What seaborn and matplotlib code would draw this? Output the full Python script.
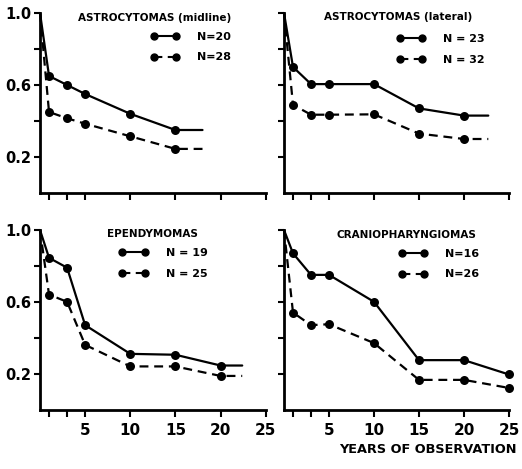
import numpy as np
import pandas as pd
import matplotlib
matplotlib.use("Agg")
import matplotlib.pyplot as plt
from matplotlib.lines import Line2D
import seaborn as sns

# ---- data ----
titles = ["ASTROCYTOMAS (midline)", "ASTROCYTOMAS (lateral)",
          "EPENDYMOMAS", "CRANIOPHARYNGIOMAS"]
n_labels = [("N=20", "N=28"), ("N = 23", "N = 32"),
            ("N = 19", "N = 25"), ("N=16", "N=26")]

years_mid = [0, 1, 3, 5, 10, 15, 18]
mid_solid = [1.0, 0.65, 0.60, 0.55, 0.44, 0.35, 0.35]
mid_dash = [1.0, 0.45, 0.415, 0.385, 0.315, 0.245, 0.245]
mid_marked = [False, True, True, True, True, True, False]

years_lat = [0, 1, 3, 5, 10, 15, 20, 22.7]
lat_solid = [1.0, 0.70, 0.605, 0.605, 0.605, 0.47, 0.43, 0.43]
lat_dash = [1.0, 0.49, 0.435, 0.435, 0.437, 0.33, 0.30, 0.30]
lat_marked = [False, True, True, True, True, True, True, False]

years_ep = [0, 1, 3, 5, 10, 15, 20, 22.4]
ep_solid = [1.0, 0.845, 0.79, 0.47, 0.31, 0.305, 0.245, 0.245]
ep_dash = [1.0, 0.64, 0.60, 0.36, 0.24, 0.24, 0.187, 0.187]
ep_marked = [False, True, True, True, True, True, True, False]

years_cr = [0, 1, 3, 5, 10, 15, 20, 25]
cr_solid = [1.0, 0.87, 0.75, 0.75, 0.60, 0.275, 0.275, 0.195]
cr_dash = [1.0, 0.54, 0.47, 0.475, 0.37, 0.165, 0.165, 0.12]
cr_marked = [False, True, True, True, True, True, True, True]

x_ticks = [1, 3, 5, 10, 15, 20, 25]
x_ticklabels = ["", "", "5", "10", "15", "20", "25"]
y_ticks = [0.2, 0.4, 0.6, 0.8, 1.0]
y_ticklabels = ["0.2", "", "0.6", "", "1.0"]

panels_raw = [
    (years_mid, mid_solid, mid_dash, mid_marked),
    (years_lat, lat_solid, lat_dash, lat_marked),
    (years_ep, ep_solid, ep_dash, ep_marked),
    (years_cr, cr_solid, cr_dash, cr_marked),
]

frames = []
for p, (yrs, s, d, m) in enumerate(panels_raw):
    frames.append(pd.DataFrame({"panel": p, "group": "solid", "year": yrs,
                                "value": s, "marked": m}))
    frames.append(pd.DataFrame({"panel": p, "group": "dashed", "year": yrs,
                                "value": d, "marked": m}))
df = pd.DataFrame(pd.concat(frames, ignore_index=True))

# ---- styling ----
sns.set_style("ticks")
plt.rcParams["font.family"] = ["DejaVu Sans"]
plt.rcParams["font.weight"] = "bold"
for key in ["text.color", "axes.labelcolor", "xtick.color", "ytick.color",
            "axes.edgecolor"]:
    plt.rcParams[key] = "black"

fig = plt.figure(figsize=(5.22, 4.69), dpi=100)
W, H = 522, 469
boxes = [(40, 13, 265.7, 193), (284, 13, 509, 193),
         (40, 230, 265.7, 409.5), (284, 230, 509, 409.5)]
title_pos = [(0.51, 0.972), (0.507, 0.978), (0.496, 0.976), (0.545, 0.972)]
leg_pos = [(0.49, 0.895), (0.50, 0.882), (0.35, 0.90), (0.51, 0.895)]

DASH = (4, 2.6)
for p in range(4):
    x0, y0, x1, y1 = boxes[p]
    ax = fig.add_axes([x0 / W, (H - y1) / H, (x1 - x0) / W, (y1 - y0) / H])
    sub = df[df.panel == p]
    sns.lineplot(data=sub, x="year", y="value", style="group",
                 style_order=["solid", "dashed"],
                 dashes={"solid": "", "dashed": DASH},
                 color="black", linewidth=1.6, legend=False, ax=ax,
                 sort=True, estimator=None)
    for ln in ax.get_lines():
        ln.set_clip_on(False)
    sns.scatterplot(data=sub[sub.marked], x="year", y="value",
                    color="black", edgecolor="black", s=42, linewidth=0,
                    legend=False, ax=ax, clip_on=False, zorder=3)
    ax.set_xlim(0, 25)
    ax.set_ylim(0, 1.0)
    sns.despine(ax=ax)
    for side in ["left", "bottom"]:
        ax.spines[side].set_linewidth(2.0)
        ax.spines[side].set_color("black")
    ax.set_xticks(x_ticks)
    ax.set_yticks(y_ticks)
    if p >= 2:
        ax.set_xticklabels(x_ticklabels, fontsize=11, fontweight="bold")
    else:
        ax.set_xticklabels([""] * len(x_ticks))
    if p % 2 == 0:
        ax.set_yticklabels(y_ticklabels, fontsize=10.5, fontweight="bold")
    else:
        ax.set_yticklabels([""] * len(y_ticks))
    ax.tick_params(axis="x", length=5, width=1.5, pad=5, colors="black")
    ax.tick_params(axis="y", length=4, width=1.5, pad=2, colors="black")
    ax.set_xlabel("")
    ax.set_ylabel("")
    ax.text(title_pos[p][0], title_pos[p][1], titles[p], transform=ax.transAxes,
            ha="center", va="center", fontsize=7.5, fontweight="bold")
    handles = [Line2D([], [], color="black", lw=1.5, marker="o", ms=5),
               Line2D([], [], color="black", lw=1.5, ls=(0, DASH), marker="o", ms=5)]
    ax.legend(handles, list(n_labels[p]), loc="upper left",
              bbox_to_anchor=leg_pos[p], frameon=False, numpoints=2,
              handlelength=2.6, handletextpad=1.6, labelspacing=0.95,
              borderpad=0, borderaxespad=0,
              prop={"size": 8, "weight": "bold"})

fig.text(517 / W, 1 - 449 / H, "YEARS OF OBSERVATION", ha="right", va="center",
         fontsize=9.3, fontweight="bold")

fig.savefig("out.png", dpi=100)
